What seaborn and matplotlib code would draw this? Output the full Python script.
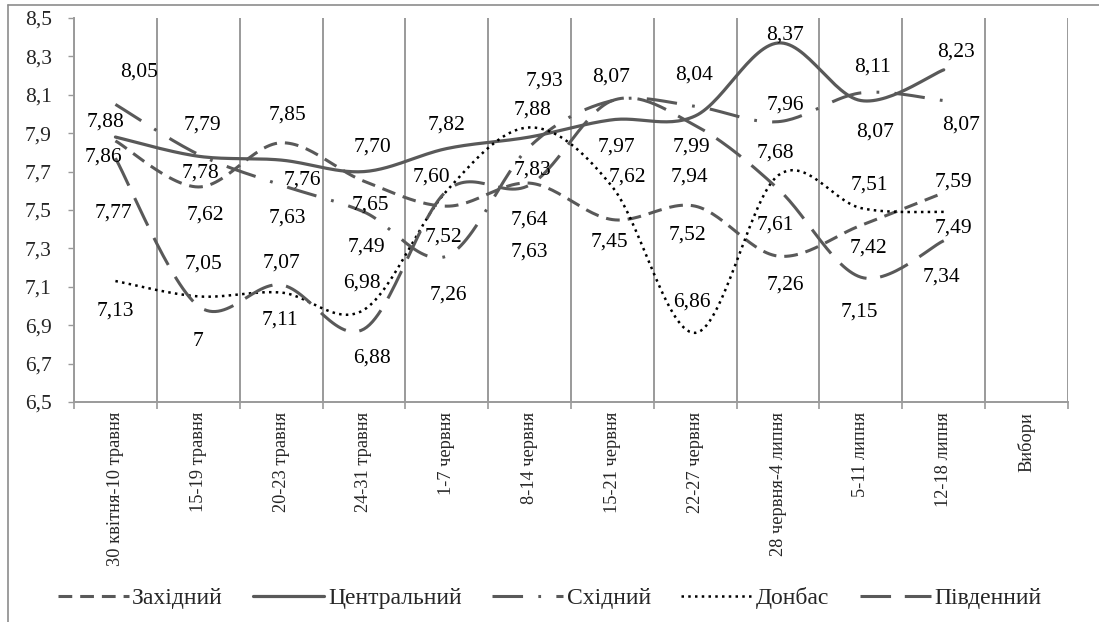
import numpy as np
import matplotlib
matplotlib.use("Agg")
import matplotlib.pyplot as plt
import seaborn as sns
from matplotlib.lines import Line2D

# ---------------- data ----------------
categories = ["30 квітня-10 травня", "15-19 травня", "20-23 травня", "24-31 травня",
              "1-7 червня", "8-14 червня", "15-21 червня", "22-27 червня",
              "28 червня-4 липня", "5-11 липня", "12-18 липня", "Вибори"]
series_names = ["Західний", "Центральний", "Східний", "Донбас", "Південний"]
zakhidnyi = [7.86, 7.62, 7.85, 7.65, 7.52, 7.64, 7.45, 7.52, 7.26, 7.42, 7.59]
tsentralnyi = [7.88, 7.78, 7.76, 7.70, 7.82, 7.88, 7.97, 7.99, 8.37, 8.07, 8.23]
skhidnyi = [8.05, 7.79, 7.63, 7.49, 7.26, 7.83, 8.07, 8.04, 7.96, 8.11, 8.07]
donbas = [7.13, 7.05, 7.07, 6.98, 7.60, 7.93, 7.62, 6.86, 7.68, 7.51, 7.49]
pivdennyi = [7.77, 7.00, 7.11, 6.88, 7.60, 7.63, 8.07, 7.94, 7.61, 7.15, 7.34]
y_ticks = [6.5, 6.7, 6.9, 7.1, 7.3, 7.5, 7.7, 7.9, 8.1, 8.3, 8.5]

# ---------------- styles ----------------
GRAY = "#595959"
styles = [
    dict(color=GRAY, lw=2.2, ls=(0, (4.5, 2.6))),            # short dash
    dict(color=GRAY, lw=2.3, ls="-"),                         # solid
    dict(color=GRAY, lw=2.2, ls=(0, (10, 5, 0.9, 5))),        # long dash dot
    dict(color="black", lw=1.8, ls=(0, (1, 1.7))),            # dotted
    dict(color=GRAY, lw=2.2, ls=(0, (10, 4.5))),              # long dash
]

# label offsets in pixels (dx, dy) — dy positive = downwards on screen
label_offsets = [
    [(-12, 16), (7, 28), (6, -28), (6, 24), (-3, 31), (0, 37), (-3, 22), (-8, 29), (7, 29), (8, 23), (10, -11)],
    [(-10, -15), (2, 17), (21, 20), (9, -25), (0, -24), (3, -27), (4, 27), (-4, 31), (7, -8), (14, 31), (12, -18)],
    [(24, -32), (4, -29), (6, 33), (3, 35), (2, 39), (3, 23), (-1, -24), (-1, -31), (7, -17), (12, -26), (17, 24)],
    [(0, 30), (5, -32), (0, -30), (-2, -27), (-15, -14), (15, -46), (15, -10), (-3, -31), (-3, -22), (8, -23), (10, 16)],
    [(-2, 55), (0, 36), (-1, 35), (8, 29), (-15, -14), (0, 67), (-1, -24), (-6, 52), (-3, 36), (-2, 35), (-2, 36)],
]


def smooth(vals, n=30):
    """Excel-style smoothed line (cubic Bezier, Catmull-Rom control points)."""
    y = np.asarray(vals, float)
    x = np.arange(len(y), dtype=float)
    P = np.column_stack([x, y])
    out = []
    m = len(P)
    t = np.linspace(0, 1, n)
    for i in range(m - 1):
        p0 = P[i - 1] if i > 0 else P[i]
        p1 = P[i]
        p2 = P[i + 1]
        p3 = P[i + 2] if i + 2 < m else P[i + 1]
        c1 = p1 + (p2 - p0) / 6.0
        c2 = p2 - (p3 - p1) / 6.0
        seg = ((1 - t) ** 3)[:, None] * p1 + (3 * (1 - t) ** 2 * t)[:, None] * c1 \
            + (3 * (1 - t) * t ** 2)[:, None] * c2 + (t ** 3)[:, None] * p2
        if i > 0:
            seg = seg[1:]
        out.append(seg)
    out = np.vstack(out)
    return out[:, 0], out[:, 1]


def fmt(v):
    if abs(v - round(v)) < 1e-9:
        return str(int(round(v)))
    return f"{v:.2f}".replace(".", ",")


sns.set_style("white")
plt.rcParams["font.family"] = ["Liberation Serif", "DejaVu Serif"]

W, H = 1099, 622
fig = plt.figure(figsize=(W / 100, H / 100), dpi=100)
ax = fig.add_axes([74 / W, 1 - 402 / H, (1068 - 74) / W, (402 - 18) / H])

all_series = [zakhidnyi, tsentralnyi, skhidnyi, donbas, pivdennyi]
for vals, st in zip(all_series, styles):
    xs, ys = smooth(vals)
    sns.lineplot(x=xs, y=ys, ax=ax, color=st["color"], linewidth=st["lw"],
                 linestyle=st["ls"], estimator=None, sort=False, legend=False,
                 dash_capstyle="butt", zorder=3)

drawn = set()
for vals, offs in zip(all_series, label_offsets):
    for i, (v, (dx, dy)) in enumerate(zip(vals, offs)):
        key = (i, fmt(v), dx, dy)
        if key in drawn:
            continue
        drawn.add(key)
        ax.annotate(fmt(v), (i, v), xytext=(dx, -dy), textcoords="offset pixels",
                    ha="center", va="center", fontsize=15.5, color="black", zorder=4)

GRID = "#9a9a9a"
ax.set_xlim(-0.5, 11.5)
ax.set_ylim(6.5, 8.5)
ax.set_xticks(np.arange(-0.5, 12, 1.0))
ax.set_xticklabels([""] * 13)
ax.set_xticks(np.arange(12), minor=True)
ax.set_xticklabels(categories, minor=True, rotation=90, va="top", ha="center", fontsize=13.2)
ax.tick_params(axis="x", which="major", length=5, color=GRID, width=1.2, direction="out", bottom=True)
ax.tick_params(axis="x", which="minor", length=0, pad=7, bottom=True)
ax.grid(axis="x", which="major", color=GRID, linewidth=1.4)
ax.grid(axis="y", visible=False)

ax.set_yticks(y_ticks)
ax.set_yticklabels([f"{t:.1f}".replace(".", ",") for t in y_ticks], fontsize=15.5)
ax.tick_params(axis="y", length=4, color=GRID, width=1.0, direction="out", pad=12, left=True)
ax.set_xlabel("")
ax.set_ylabel("")

for s in ["top", "right"]:
    ax.spines[s].set_visible(False)
for s in ["left", "bottom"]:
    ax.spines[s].set_color(GRID)
    ax.spines[s].set_linewidth(1.4)

handles = [Line2D([0], [0], color=st["color"], linewidth=st["lw"], linestyle=st["ls"],
                  dash_capstyle="butt") for st in styles]
fig.legend(handles, series_names, loc="center", bbox_to_anchor=(0.5, 1 - 598 / H), ncol=5,
           frameon=False, fontsize=17, handlelength=3.0, columnspacing=1.3, handletextpad=0.15)

# outer chart border (left and top visible)
fig.add_artist(Line2D([8 / W, 8 / W], [0, 1 - 5 / H], transform=fig.transFigure, color="#8c8c8c", lw=1.2))
fig.add_artist(Line2D([8 / W, 1], [1 - 5 / H, 1 - 5 / H], transform=fig.transFigure, color="#8c8c8c", lw=1.2))

fig.savefig("out.png", dpi=100, facecolor="white")
